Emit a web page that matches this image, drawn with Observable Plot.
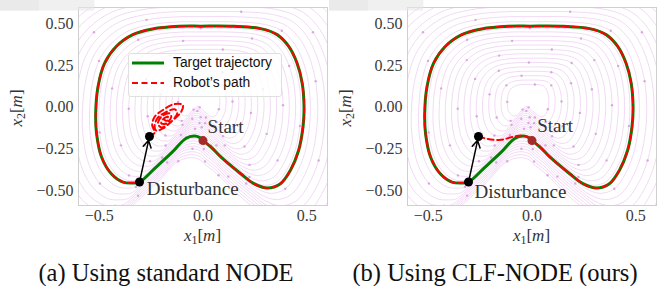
<!DOCTYPE html>
<html>
<head>
<meta charset="utf-8">
<script src="https://cdn.jsdelivr.net/npm/d3@7"></script>
<script src="https://cdn.jsdelivr.net/npm/@observablehq/plot@0.6"></script>
<style>
  body { margin: 0; background: #fff; }
  #wrap { position: relative; width: 661px; height: 286px; background: #fff; overflow: hidden; }
  .panel { position: absolute; top: 0; }
  .panel svg, .panel svg text { font-family: "Liberation Serif", serif !important; }
  .cap { position: absolute; top: 261px; font-family: "Liberation Serif", serif; font-size: 24.5px; line-height: 1; text-align: center; color: #111; white-space: nowrap; }
  .xl { position: absolute; top: 227px; font-family: "Liberation Serif", serif; font-size: 17px; line-height: 1; color: #333; white-space: nowrap; transform: translateX(-50%); }
  .yl { position: absolute; font-family: "Liberation Serif", serif; font-size: 17px; line-height: 1; color: #333; white-space: nowrap; transform: translate(-50%, -50%) rotate(-90deg); }
  .xl sub, .yl sub { font-size: 0.7em; vertical-align: -0.25em; font-style: normal; }
  .legend { position: absolute; left: 128px; top: 53px; width: 152px; height: 42px; background: rgba(255,255,255,0.82); border: 1px solid #e0e0e0; border-radius: 3px; font-family: "Liberation Sans", Arial, sans-serif; font-size: 13.8px; color: #111; }
  .legend .row { position: absolute; left: 0; height: 16px; line-height: 16px; white-space: nowrap; }
  .legend svg { position: absolute; left: 3px; top: 0; }
  .legend span { position: absolute; left: 44px; top: 0; }
</style>
</head>
<body>
<div id="wrap"></div>
<script>
// ---------------- data ----------------
// target trajectory (closed loop, starting at "Start", clockwise)
const targetX = [0.000, 0.040, 0.086, 0.182, 0.245, 0.310, 0.373, 0.421, 0.461, 0.482, 0.487, 0.478, 0.453, 0.413, 0.357, 0.278, 0.150, -0.010, -0.115, -0.243, -0.338, -0.418, -0.474, -0.506, -0.517, -0.513, -0.489, -0.442, -0.386, -0.338, -0.306, -0.226, -0.147, -0.083, -0.043, -0.015, 0.000];
const targetY = [-0.200, -0.240, -0.298, -0.399, -0.459, -0.485, -0.459, -0.379, -0.258, -0.117, 0.004, 0.145, 0.266, 0.366, 0.437, 0.473, 0.487, 0.488, 0.487, 0.471, 0.437, 0.366, 0.266, 0.124, -0.036, -0.157, -0.298, -0.399, -0.449, -0.455, -0.449, -0.359, -0.268, -0.187, -0.173, -0.182, -0.200];
const disturbIndex = 30; // index of the disturbance point on the loop

// (a) standard NODE: after the push, the robot spirals into a spurious attractor
const spiralAX = [-0.258, -0.233, -0.245, -0.233, -0.193, -0.137, -0.097, -0.105, -0.145, -0.193, -0.225, -0.233, -0.220, -0.185, -0.137, -0.124, -0.153, -0.201, -0.217, -0.201, -0.161, -0.153, -0.177, -0.201, -0.193, -0.169, -0.172, -0.186];
const spiralAY = [-0.175, -0.153, -0.107, -0.057, -0.016, 0.020, 0.014, -0.027, -0.077, -0.127, -0.140, -0.117, -0.066, -0.033, -0.012, -0.033, -0.087, -0.121, -0.097, -0.057, -0.036, -0.057, -0.097, -0.097, -0.072, -0.057, -0.081, -0.075];

// (b) CLF-NODE: after the push, the robot returns to the target trajectory
const returnBX = [-0.258, -0.212, -0.148, -0.100, -0.053, -0.015, 0.000];
const returnBY = [-0.175, -0.190, -0.195, -0.180, -0.170, -0.182, -0.200];

// markers
const startPt = {x: 0.000, y: -0.200};
const disturbPt = {x: -0.306, y: -0.449};
const pushedPt = {x: -0.258, y: -0.175};

// annotation text anchors
const labelsA = [{t: "Start", x: 0.022, y: -0.117}, {t: "Disturbance", x: -0.271, y: -0.489}];
const labelsB = [{t: "Start", x: 0.025, y: -0.113}, {t: "Disturbance", x: -0.277, y: -0.507}];

// background flow (streamline-like nested loops): scale levels of the loop
const streamScales = [0.20, 0.26, 0.32, 0.38, 0.44, 0.50, 0.56, 0.62, 0.68, 0.74, 0.80, 0.86, 0.92, 0.97, 1.06, 1.13, 1.20, 1.27, 1.34, 1.42, 1.50, 1.58];
const streamCenter = {x: -0.02, y: 0.05};

const xTicks = [-0.5, 0.0, 0.5];
const yTicks = [-0.5, -0.25, 0.0, 0.25, 0.5];

// ---------------- build ----------------
const target = targetX.map((x, i) => ({x, y: targetY[i]}));
const loopPart = target.slice(0, disturbIndex + 1);
const spiralA = spiralAX.map((x, i) => ({x, y: spiralAY[i]}));
const returnB = returnBX.map((x, i) => ({x, y: returnBY[i]}));
const streams = streamScales.flatMap((s, k) => target.map((p, i) => ({
  x: streamCenter.x + s * (p.x - streamCenter.x),
  y: streamCenter.y + s * (p.y - streamCenter.y),
  s, head: (i + 3 * k) % 8 === 0
})));
const heads = streams.filter(d => d.head);

const fmtMinus = v => v.startsWith("-") ? "\u2212" + v.slice(1) : v;

function panel(robotSegments, labels) {
  return Plot.plot({
    width: 330,
    height: 248,
    marginLeft: 78,
    marginRight: 3,
    marginTop: 7,
    marginBottom: 43,
    style: {fontSize: "16px", color: "#3a3a3a", background: "transparent"},
    x: {domain: [-0.6, 0.6], ticks: xTicks, tickFormat: d => fmtMinus(d.toFixed(1)), tickSize: 0, tickPadding: 4, label: null},
    y: {domain: [-0.59, 0.60], ticks: yTicks, tickFormat: d => fmtMinus(d.toFixed(2)), tickSize: 0, tickPadding: 5, label: null},
    marks: [
      Plot.line(streams, {x: "x", y: "y", z: "s", curve: "catmull-rom", stroke: "#edcdf1", strokeWidth: 0.75, clip: true}),
      Plot.dot(heads, {x: "x", y: "y", r: 1.2, fill: "#dba6e2", clip: true}),
      Plot.frame({stroke: "#cfcfcf"}),
      Plot.line(target, {x: "x", y: "y", curve: "catmull-rom", stroke: "green", strokeWidth: 3}),
      ...robotSegments.map(seg => Plot.line(seg, {x: "x", y: "y", curve: "catmull-rom", stroke: "red", strokeWidth: 2, strokeDasharray: "6,3.5"})),
      Plot.arrow([{x1: disturbPt.x, y1: disturbPt.y, x2: pushedPt.x, y2: pushedPt.y}], {x1: "x1", y1: "y1", x2: "x2", y2: "y2", stroke: "black", strokeWidth: 1.5, headLength: 8, insetEnd: 4}),
      Plot.dot([disturbPt, pushedPt], {x: "x", y: "y", r: 4.5, fill: "black"}),
      Plot.dot([startPt], {x: "x", y: "y", r: 4.5, fill: "#a52a2a"}),
      Plot.text(labels, {x: "x", y: "y", text: "t", textAnchor: "start", lineAnchor: "middle", fontSize: 19, fill: "#333"})
    ]
  });
}

const wrap = document.getElementById("wrap");

function addPanel(left, robotSegments, labels, caption) {
  const d = document.createElement("div");
  d.className = "panel";
  d.style.left = left + "px";
  d.appendChild(panel(robotSegments, labels));
  wrap.appendChild(d);
  // light label boxes behind the annotation texts
  d3.select(d).selectAll('g[aria-label="text"] text').each(function () {
    const b = this.getBBox();
    d3.select(this.parentNode).insert("rect", () => this)
      .attr("x", b.x - 2).attr("y", b.y + 1).attr("width", b.width + 4).attr("height", b.height - 1)
      .attr("fill", "#e6e6e6").attr("fill-opacity", 0.6).attr("rx", 1.5);
  });
  const xl = document.createElement("div");
  xl.className = "xl";
  xl.style.left = (left + 202.5) + "px";
  xl.innerHTML = "<i>x</i><sub>1</sub>[<i>m</i>]";
  wrap.appendChild(xl);
  const yl = document.createElement("div");
  yl.className = "yl";
  yl.style.left = (left + 17.5) + "px";
  yl.style.top = "108px";
  yl.innerHTML = "<i>x</i><sub>2</sub>[<i>m</i>]";
  wrap.appendChild(yl);
  const c = document.createElement("div");
  c.className = "cap";
  c.style.left = left + "px";
  c.style.width = "332px";
  c.textContent = caption;
  wrap.appendChild(c);
}

addPanel(0, [loopPart, spiralA], labelsA, "(a) Using standard NODE");
addPanel(329, [returnB.concat(loopPart)], labelsB, "(b) Using CLF-NODE (ours)");

// legend (panel a)
const lg = document.createElement("div");
lg.className = "legend";
lg.innerHTML =
  '<div class="row" style="top:1px;width:150px"><svg width="36" height="16"><line x1="0" y1="8" x2="32" y2="8" stroke="green" stroke-width="3"/></svg><span>Target trajectory</span></div>' +
  '<div class="row" style="top:21px;width:150px"><svg width="36" height="16"><line x1="0" y1="8" x2="32" y2="8" stroke="red" stroke-width="2" stroke-dasharray="6,3.5"/></svg><span>Robot\u2019s path</span></div>';
wrap.appendChild(lg);
</script>
</body>
</html>
